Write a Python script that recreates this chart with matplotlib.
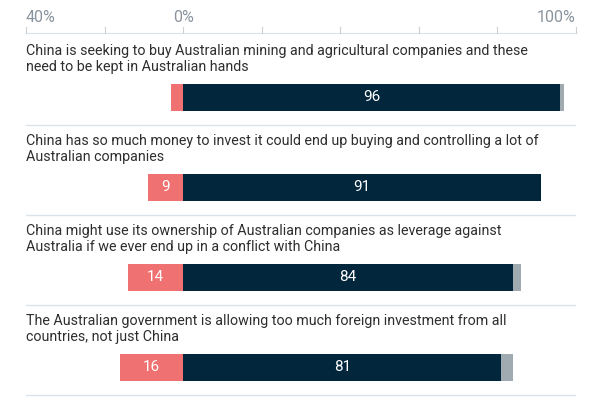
import matplotlib
matplotlib.use("Agg")
import matplotlib.pyplot as plt

statements = [
    "China is seeking to buy Australian mining and agricultural companies and these\nneed to be kept in Australian hands",
    "China has so much money to invest it could end up buying and controlling a lot of\nAustralian companies",
    "China might use its ownership of Australian companies as leverage against\nAustralia if we ever end up in a conflict with China",
    "The Australian government is allowing too much foreign investment from all\ncountries, not just China",
]
disagree = [3, 9, 14, 16]
agree = [96, 91, 84, 81]
other = [1, 0, 2, 3]
tick_values = [-40, -20, 0, 20, 40, 60, 80, 100]
tick_labels = {-40: "40%", 0: "0%", 100: "100%"}

RED = "#F07171"
NAVY = "#02263C"
GREY = "#9FABB1"
SEP = "#DCE3E8"
TEXT = "#2E2E2E"
TICK = "#8A949E"

plt.rcParams['font.family'] = ['Roboto', 'DejaVu Sans']

fig = plt.figure(figsize=(6, 4), dpi=100)
ax = fig.add_axes([26 / 600, 0, 550 / 600, 1])
ax.set_xlim(-40, 100)
ax.set_ylim(400, 0)
ax.axis("off")

# top axis: baseline, ticks, labels
ax.plot([-40, 100], [33, 33], color=SEP, lw=0.8, clip_on=False)
for t in tick_values:
    ax.plot([t, t], [27, 33], color="#C9D1D7", lw=0.8, clip_on=False)
    if t in tick_labels:
        ha = "left" if t == -40 else ("right" if t == 100 else "center")
        ax.text(t, 17, tick_labels[t], ha=ha, va="center", fontsize=11.5, color=TICK)

pitch = 90
bar_h = 27
for i, s in enumerate(statements):
    yb = 97 + pitch * i
    ax.text(-40, 59 + pitch * i, s, ha="left", va="center", fontsize=10.3,
            color=TEXT, linespacing=1.25)
    ax.barh(yb, -disagree[i], height=bar_h, left=0, color=RED)
    ax.barh(yb, agree[i], height=bar_h, left=0, color=NAVY)
    ax.barh(yb, other[i], height=bar_h, left=agree[i], color=GREY)
    if disagree[i] >= 5:
        ax.text(-disagree[i] / 2, yb, str(disagree[i]), ha="center", va="center",
                fontsize=11, color="white")
    ax.text(agree[i] / 2, yb, str(agree[i]), ha="center", va="center",
            fontsize=11, color="white")
    ax.plot([-40, 100], [125 + pitch * i, 125 + pitch * i], color=SEP, lw=1)

fig.savefig("out.png", dpi=100)
